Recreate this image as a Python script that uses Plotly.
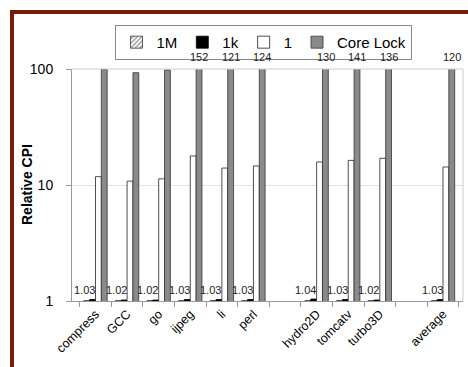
import plotly.graph_objects as go

categories = ["compress", "GCC", "go", "ijpeg", "li", "perl", " ",
              "hydro2D", "tomcatv", "turbo3D", "  ", "average"]
series_1M = [1.01, 1.01, 1.01, 1.01, 1.01, 1.01, None, 1.01, 1.01, 1.01, None, 1.01]
series_1k = [1.03, 1.02, 1.02, 1.03, 1.03, 1.03, None, 1.04, 1.03, 1.02, None, 1.03]
series_1 = [11.8, 10.8, 11.3, 17.8, 14.0, 14.6, None, 15.8, 16.3, 17.0, None, 14.3]
series_core = [99, 93, 98, 152, 121, 124, None, 130, 141, 136, None, 120]
low_labels = ["1.03", "1.02", "1.02", "1.03", "1.03", "1.03", None,
              "1.04", "1.03", "1.02", None, "1.03"]
top_labels = [None, None, None, "152", "121", "124", None, "130", "141", "136", None, "120"]
ytick_vals = [1, 10, 100]
ytick_text = ["1", "10", "100"]

FONT = "Liberation Sans, Arial, Helvetica, sans-serif"

fig = go.Figure()
fig.add_trace(go.Bar(name="1M", x=categories, y=series_1M,
                     marker=dict(color="white", line=dict(color="#333", width=0.8),
                                 pattern=dict(shape="/", fgcolor="#222", bgcolor="white", size=4, solidity=0.4))))
fig.add_trace(go.Bar(name="1k", x=categories, y=series_1k,
                     marker=dict(color="black", line=dict(color="black", width=0.8))))
fig.add_trace(go.Bar(name="1", x=categories, y=series_1,
                     marker=dict(color="white", line=dict(color="#222", width=0.8))))
fig.add_trace(go.Bar(name="Core Lock", x=categories, y=series_core,
                     marker=dict(color="#8a8a8a", line=dict(color="#333", width=0.8))))

PW = 391
annotations = []
for c, t in zip(categories, low_labels):
    if t:
        annotations.append(dict(x=c, y=0, xref="x", yref="y", text=t, showarrow=False,
                                xshift=-11, yshift=11, font=dict(size=11, color="#222", family=FONT)))
for c, t in zip(categories, top_labels):
    if t:
        annotations.append(dict(x=c, y=2, xref="x", yref="y", text=t, showarrow=False,
                                xshift=9, yshift=12, font=dict(size=11, color="#222", family=FONT)))
annotations.append(dict(x=-45 / PW, y=0.5, xref="paper", yref="paper", text="<b>Relative CPI</b>",
                        textangle=-90, showarrow=False, xanchor="center", yanchor="middle",
                        font=dict(size=14, color="black", family=FONT)))

fig.update_layout(
    width=468, height=367,
    margin=dict(l=72, r=5, t=69, b=66, autoexpand=False),
    paper_bgcolor="white", plot_bgcolor="white",
    barmode="group", bargap=0.26, bargroupgap=0,
    font=dict(family=FONT, color="black"),
    showlegend=True,
    legend=dict(orientation="h", x=0.491, xanchor="center", y=1.19, yanchor="top",
                bordercolor="#888", borderwidth=1, bgcolor="white",
                font=dict(size=15, family=FONT), itemwidth=30, tracegroupgap=0),
    xaxis=dict(type="category", categoryorder="array", categoryarray=categories,
               tickangle=-45, tickfont=dict(size=12.5, family=FONT), automargin=False,
               showline=True, linecolor="#999", linewidth=1,
               ticks="outside", ticklen=5, tickcolor="#999", tickson="boundaries",
               showgrid=False),
    yaxis=dict(type="log", range=[0, 2], tickvals=ytick_vals, ticktext=ytick_text,
               tickfont=dict(size=14, family=FONT), automargin=False,
               showline=True, linecolor="#999", linewidth=1,
               ticks="outside", ticklen=5, tickcolor="#999", ticklabelstandoff=10,
               showgrid=True, gridcolor="#e2e2e2", zeroline=False),
    annotations=annotations,
    shapes=[
        dict(type="line", xref="paper", yref="paper", x0=1, x1=1, y0=0, y1=1,
             line=dict(color="#ccc", width=1)),
        dict(type="line", xref="paper", yref="paper", x0=0, x1=1, y0=1, y1=1,
             line=dict(color="#ccc", width=1)),
        dict(type="rect", xref="paper", yref="paper",
             x0=-0.1535, x1=1.2, y0=-0.5, y1=1.246,
             line=dict(color="#7a1a0d", width=4), fillcolor="rgba(0,0,0,0)", layer="above"),
    ],
)

fig.write_html("out.html", config={"displayModeBar": False},
               post_script="document.body.style.margin='0';document.body.style.overflow='hidden';")
